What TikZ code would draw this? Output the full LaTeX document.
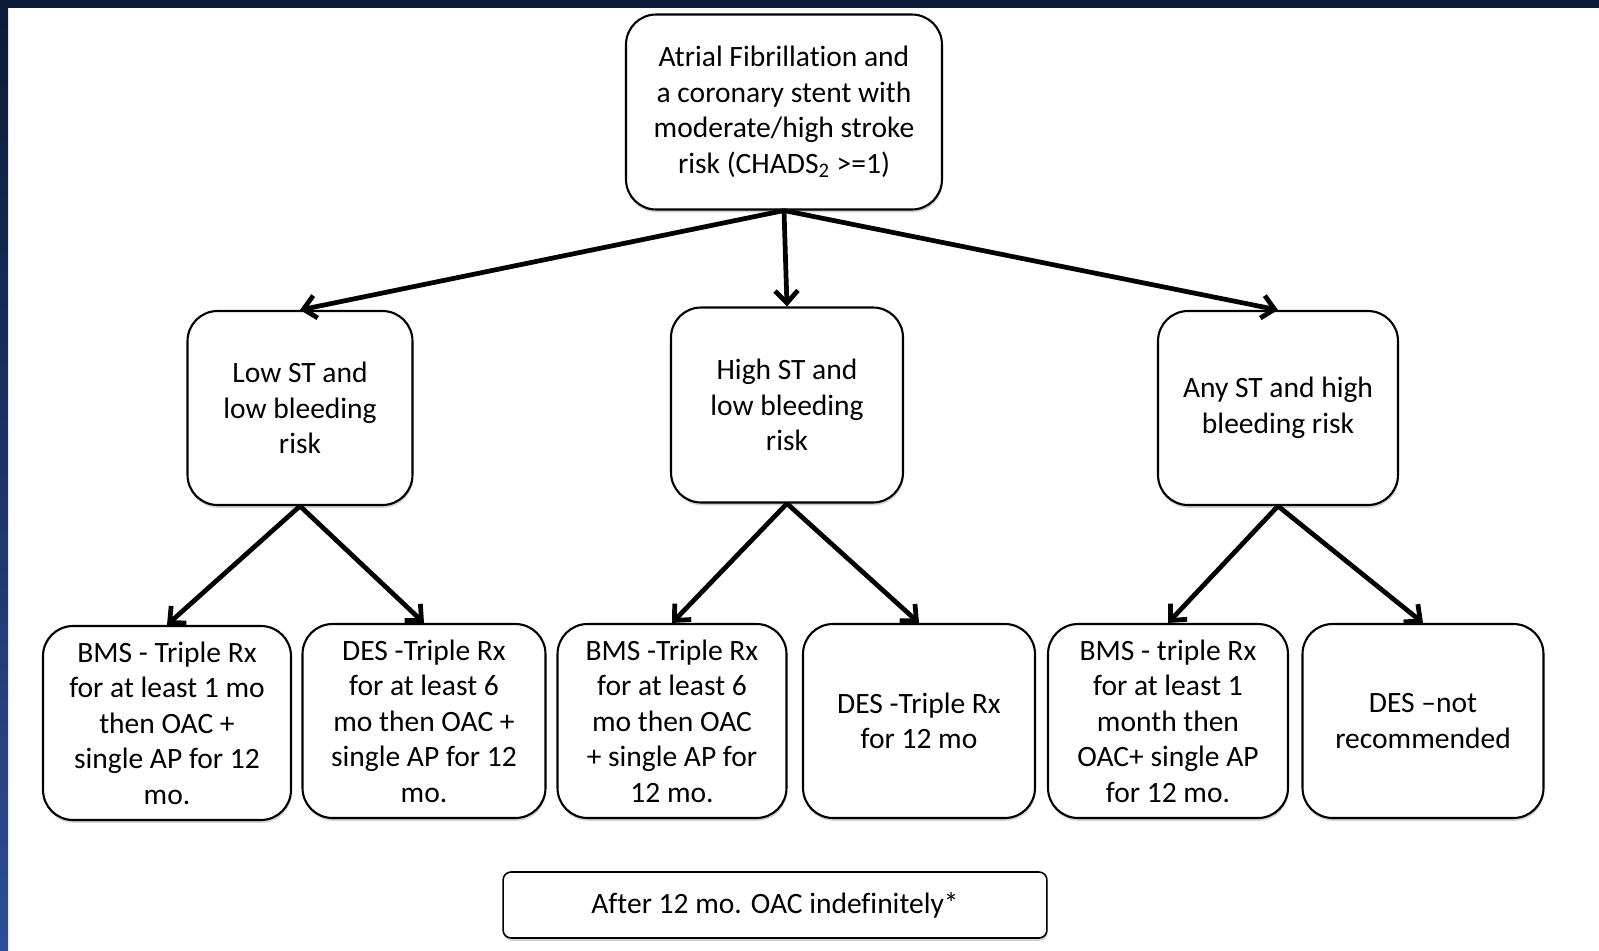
\documentclass[tikz,border=0pt]{standalone}
\usepackage{fontspec}
\setmainfont{Carlito}[Ligatures=NoCommon]
\usepackage{xcolor}
\usetikzlibrary{arrows.meta,shadows}
\definecolor{navy}{HTML}{0C1A38}
\definecolor{slideblue}{HTML}{2C4D96}

\begin{document}
\begin{tikzpicture}[x=0.02cm,y=-0.02cm,
  box/.style={draw,line width=1.2pt,rounded corners=0.6cm,fill=white,align=center,
    inner sep=2pt,font=\fontsize{16.8}{20.2}\selectfont,
    drop shadow={shadow xshift=0.4pt,shadow yshift=-1.6pt,opacity=0.35}},
  arr/.style={-{Straight Barb[length=7pt,width=13pt]},line width=2.7pt}]
  % slide background: white page, dark band on top, shaded band on the left
  \useasboundingbox (0,0) rectangle (1599,950);
  \fill[white] (0,0) rectangle (1599,950);
  \fill[navy] (0,0) rectangle (1599,8);
  \shade[top color=navy,bottom color=slideblue] (0,0) rectangle (8,950);
  % root and the three risk groups
  \node[box,minimum width=6.32cm,minimum height=3.9cm] (af) at (784,112)
    {Atrial Fibrillation and\\a coronary stent with\\moderate/high stroke\\risk (CHADS\textsubscript{2} >=1)};
  \node[box,minimum width=4.5cm,minimum height=3.88cm] (lowst) at (300,408)
    {Low ST and\\low bleeding\\risk};
  \node[box,minimum width=4.64cm,minimum height=3.9cm] (highst) at (787,405)
    {High ST and\\low bleeding\\risk};
  \node[box,minimum width=4.8cm,minimum height=3.88cm] (anyst) at (1278,408)
    {Any ST and high\\bleeding risk};
  % treatment boxes
  \node[box,minimum width=4.96cm,minimum height=3.88cm] (bmslow) at (167,723)
    {BMS - Triple Rx\\for at least 1 mo\\then OAC +\\single AP for 12\\mo.};
  \node[box,minimum width=4.86cm,minimum height=3.88cm] (deslow) at (424,721)
    {DES -Triple Rx\\for at least 6\\mo then OAC +\\single AP for 12\\mo.};
  \node[box,minimum width=4.58cm,minimum height=3.88cm] (bmshigh) at (672,721)
    {BMS -Triple Rx\\for at least 6\\mo then OAC\\+ single AP for\\12 mo.};
  \node[box,minimum width=4.64cm,minimum height=3.88cm] (deshigh) at (919,721)
    {DES -Triple Rx\\for 12 mo};
  \node[box,minimum width=4.8cm,minimum height=3.88cm] (bmsany) at (1168,721)
    {BMS - triple Rx\\for at least 1\\month then\\OAC+ single AP\\for 12 mo.};
  \node[box,minimum width=4.82cm,minimum height=3.88cm] (desany) at (1423,721)
    {DES –not\\recommended};
  \node[box,rounded corners=0.16cm,line width=0.9pt,minimum width=10.88cm,minimum height=1.32cm] (after) at (775,905)
    {After 12 mo. OAC indefinitely*};
  % connectors
  \draw[arr] (af.south) -- (lowst.north);
  \draw[arr] (af.south) -- (highst.north);
  \draw[arr] (af.south) -- (anyst.north);
  \draw[arr] (lowst.south) -- (bmslow.north);
  \draw[arr] (lowst.south) -- (deslow.north);
  \draw[arr] (highst.south) -- (bmshigh.north);
  \draw[arr] (highst.south) -- (deshigh.north);
  \draw[arr] (anyst.south) -- (bmsany.north);
  \draw[arr] (anyst.south) -- (desany.north);
\end{tikzpicture}
\end{document}
